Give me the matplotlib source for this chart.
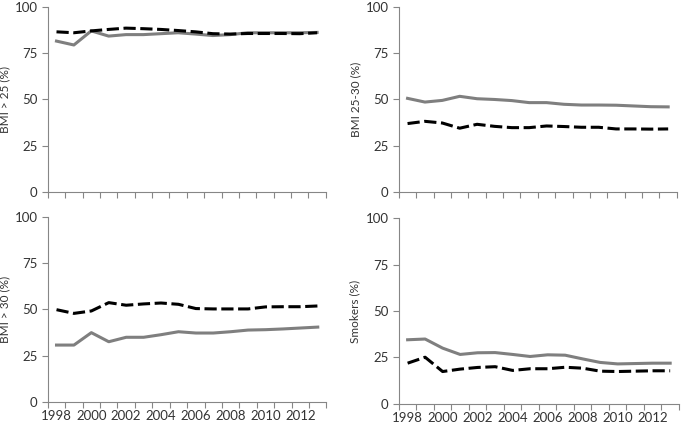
import numpy as np
import matplotlib.pyplot as plt

plt.rcParams['font.family'] = ['Lato', 'DejaVu Sans']

years = list(range(1998, 2014))

# solid grey series / dashed black series per panel
bmi25_a = [81.5, 79.4, 87.0, 84.2, 85.0, 85.0, 85.5, 86.0, 85.3, 84.5, 85.0, 86.0, 86.0, 86.0, 86.0, 86.2]
bmi25_b = [86.5, 86.0, 87.0, 87.8, 88.5, 88.2, 87.8, 87.2, 86.5, 85.5, 85.3, 85.6, 85.6, 85.6, 85.5, 86.0]

bmi2530_a = [50.6, 48.6, 49.5, 51.7, 50.4, 50.0, 49.4, 48.3, 48.3, 47.4, 47.0, 47.0, 46.9, 46.5, 46.1, 46.0]
bmi2530_b = [37.0, 38.2, 37.3, 34.5, 36.6, 35.5, 34.8, 34.8, 35.7, 35.4, 35.0, 35.0, 34.1, 34.1, 34.0, 34.1]

bmi30_a = [30.8, 30.8, 37.5, 32.6, 35.0, 35.0, 36.4, 38.0, 37.3, 37.3, 38.0, 38.9, 39.1, 39.5, 40.0, 40.5]
bmi30_b = [49.9, 47.9, 49.2, 53.7, 52.3, 53.0, 53.5, 52.8, 50.5, 50.3, 50.3, 50.3, 51.4, 51.5, 51.5, 51.9]

smoke_a = [34.5, 34.9, 30.0, 26.6, 27.5, 27.6, 26.6, 25.5, 26.4, 26.2, 24.2, 22.3, 21.5, 21.7, 21.9, 21.9]
smoke_b = [21.9, 25.1, 17.4, 18.7, 19.6, 20.0, 18.0, 18.9, 18.9, 19.7, 19.2, 17.6, 17.4, 17.6, 17.8, 17.8]

panels = [
    ("BMI > 25 (%)", bmi25_a, bmi25_b, [0.070, 0.549, 0.407, 0.435], False),
    ("BMI 25-30 (%)", bmi2530_a, bmi2530_b, [0.584, 0.549, 0.407, 0.435], False),
    ("BMI > 30 (%)", bmi30_a, bmi30_b, [0.070, 0.056, 0.408, 0.435], True),
    ("Smokers (%)", smoke_a, smoke_b, [0.584, 0.052, 0.410, 0.436], True),
]

fig = plt.figure(figsize=(6.83, 4.26), dpi=100)
x = np.arange(len(years))
grey = '#868686'

for label, a, b, rect, show_x in panels:
    ax = fig.add_axes(rect)
    ax.plot(x, a, color='#7f7f7f', lw=2.2, solid_joinstyle='round')
    ax.plot(x, b, color='black', lw=2.2, linestyle=(0, (4, 1.5)))
    ax.set_xlim(-0.5, len(years) - 0.5)
    ax.set_ylim(0, 100)
    ax.set_yticks([0, 25, 50, 75, 100])
    ax.set_ylabel(label, fontsize=8.5, color='#333333')
    ax.yaxis.set_label_coords(-0.136, 0.5)
    for s in ['top', 'right']:
        ax.spines[s].set_visible(False)
    for s in ['left', 'bottom']:
        ax.spines[s].set_color(grey)
        ax.spines[s].set_linewidth(0.8)
    ax.set_xticks(np.arange(-0.5, len(years)), minor=True)
    ax.tick_params(axis='x', which='minor', length=4, color=grey, width=0.8)
    ax.tick_params(axis='y', length=4, color=grey, width=0.8, labelsize=9.5, labelcolor='#333333')
    if show_x:
        ax.set_xticks(x[::2])
        ax.set_xticklabels([str(y) for y in years[::2]])
        ax.tick_params(axis='x', which='major', length=0, labelsize=9.5, labelcolor='#333333', pad=6)
    else:
        ax.set_xticks([])

fig.savefig('out.png', dpi=100)
